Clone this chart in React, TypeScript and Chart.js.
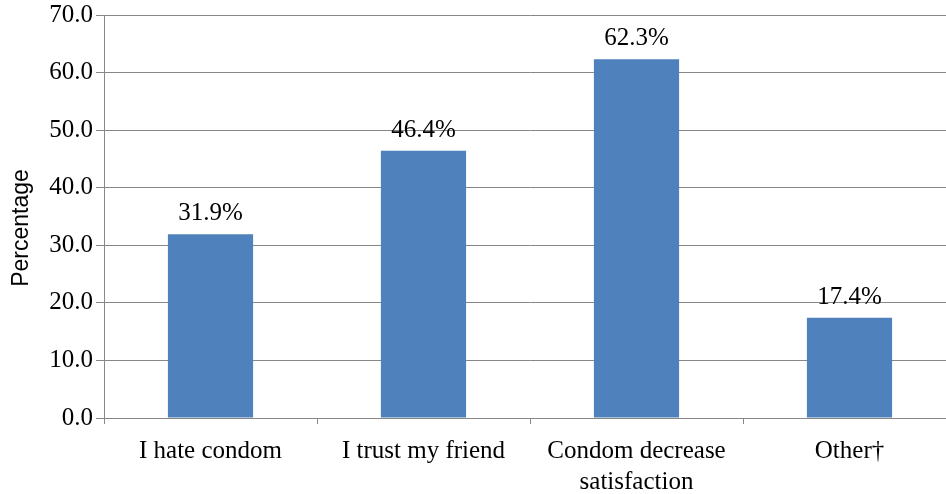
import React, { useEffect, useRef } from "react";
import { Chart, registerables } from "chart.js";

Chart.register(...registerables);

const categories: (string | string[])[] = [
  "I hate condom",
  "I trust my friend",
  ["Condom decrease", "satisfaction"],
  "Other†",
];
const percentages: number[] = [31.9, 46.4, 62.3, 17.4];
const yTitle = "Percentage";

const GRID = "#878787";
const BAR = "#4F81BD";
const SERIF = "'Liberation Serif', 'Times New Roman', serif";
const SANS = "'Liberation Sans', Arial, sans-serif";

// Percentage labels above each bar
const valueLabels = {
  id: "valueLabels",
  afterDatasetsDraw(chart: any) {
    const ctx = chart.ctx;
    const meta = chart.getDatasetMeta(0);
    ctx.save();
    ctx.font = `25px ${SERIF}`;
    ctx.fillStyle = "#000";
    ctx.textAlign = "center";
    ctx.textBaseline = "alphabetic";
    meta.data.forEach((bar: any, i: number) => {
      const v = chart.data.datasets[0].data[i] as number;
      ctx.fillText(`${v.toFixed(1)}%`, bar.x, bar.y - 14);
    });
    ctx.restore();
  },
};

// Rotated y-axis title
const yAxisTitle = {
  id: "yAxisTitle",
  afterDraw(chart: any) {
    const ctx = chart.ctx;
    ctx.save();
    ctx.translate(22, 228);
    ctx.rotate(-Math.PI / 2);
    ctx.font = `23px ${SANS}`;
    ctx.fillStyle = "#000";
    ctx.textAlign = "center";
    ctx.textBaseline = "middle";
    ctx.fillText(yTitle, 0, 0);
    ctx.restore();
  },
};

export default function App() {
  const ref = useRef<HTMLCanvasElement | null>(null);

  useEffect(() => {
    if (!ref.current) return;
    const chart = new Chart(ref.current, {
      type: "bar",
      data: {
        labels: categories,
        datasets: [
          {
            data: percentages,
            backgroundColor: BAR,
            borderWidth: 0,
            barPercentage: 0.4,
            categoryPercentage: 1,
          },
        ],
      },
      options: {
        animation: false,
        responsive: false,
        maintainAspectRatio: false,
        layout: { padding: { top: 15, right: 0, left: 0, bottom: 0 } },
        plugins: {
          legend: { display: false },
          tooltip: { enabled: false },
        },
        scales: {
          x: {
            grid: {
              offset: true,
              drawOnChartArea: false,
              drawTicks: true,
              tickLength: 6,
              color: GRID,
            },
            border: { color: GRID, width: 1 },
            ticks: {
              color: "#000",
              font: { family: SERIF, size: 25, lineHeight: 1.25 },
              padding: 12,
              maxRotation: 0,
              autoSkip: false,
            },
            afterFit(scale: any) {
              scale.height = 76;
            },
          },
          y: {
            min: 0,
            max: 70,
            grid: { color: GRID, tickLength: 8, drawTicks: true },
            border: { color: GRID, width: 1 },
            ticks: {
              stepSize: 10,
              color: "#000",
              padding: 3,
              font: { family: SERIF, size: 25, lineHeight: 1 },
              callback: (v: any) => Number(v).toFixed(1),
            },
            afterFit(scale: any) {
              scale.width = 104;
              scale.paddingTop = 0;
            },
          },
        },
      },
      plugins: [valueLabels, yAxisTitle],
    });
    return () => chart.destroy();
  }, []);

  return (
    <div
      style={{
        position: "absolute",
        left: 0,
        top: 0,
        width: 946,
        height: 494,
        overflow: "hidden",
        background: "#fff",
      }}
    >
      <canvas ref={ref} width={956} height={494} style={{ display: "block" }} />
    </div>
  );
}
